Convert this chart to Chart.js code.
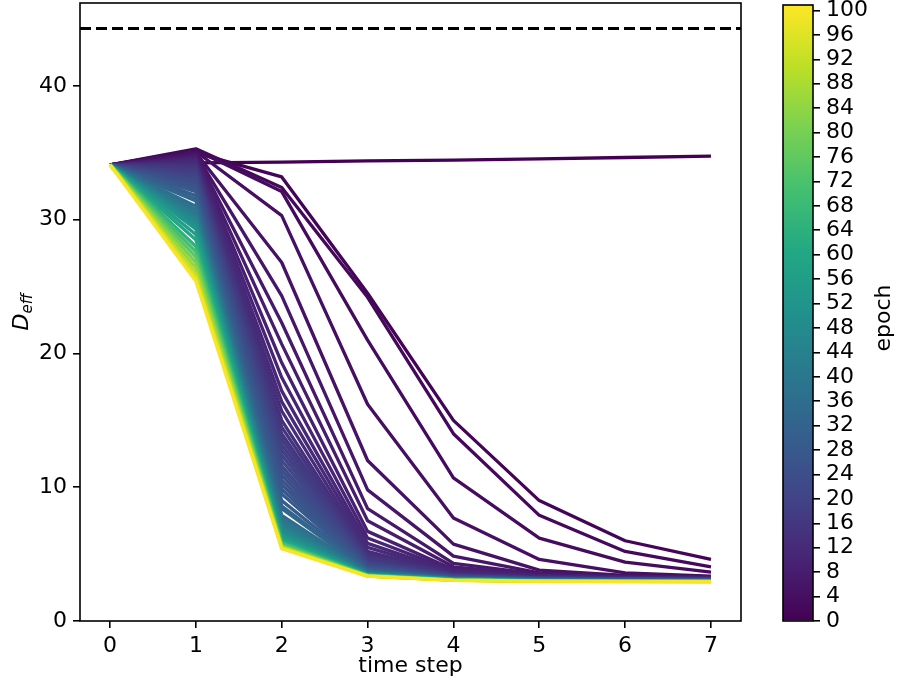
<!DOCTYPE html>
<html>
<head>
<meta charset="utf-8">
<script src="https://cdn.jsdelivr.net/npm/chart.js@4"></script>
<style>
html, body { margin: 0; padding: 0; background: #fff; }
#wrap { position: relative; width: 898px; height: 691px; }
canvas { position: absolute; top: 0; }
</style>
</head>
<body>
<div id="wrap">
  <canvas id="main" width="898" height="691" style="left:0"></canvas>
  <canvas id="cbar" width="158" height="691" style="left:740px"></canvas>
</div>
<script>
// Data
const timeSteps = [0, 1, 2, 3, 4, 5, 6, 7];
const xTicks = [0, 1, 2, 3, 4, 5, 6, 7];
const yTicks = [0, 10, 20, 30, 40];
const cbTicks = [0, 4, 8, 12, 16, 20, 24, 28, 32, 36, 40, 44, 48, 52, 56, 60, 64, 68, 72, 76, 80, 84, 88, 92, 96, 100];
const xMin = -0.35, xMax = 7.35;
const yMin = 0, yMax = 46.2;
const cbMax = 100.9;
const baselineDeff = 44.3;   // dashed reference line

const epochs = [0, 1, 2, 3, 4, 5, 6, 7, 8, 9, 10, 11, 12, 13, 14, 15, 16, 17, 18, 19, 20, 21, 22, 23,
                24, 25, 26, 27, 28, 30, 32, 33, 36, 38, 40, 42, 44, 46, 48, 50, 52, 56, 60, 65, 70,
                75, 80, 85, 90, 95, 100];

// D_eff per time step, one row per epoch above
const deff = [
  [34.1, 34.25, 34.3, 34.4, 34.45, 34.55, 34.65, 34.75],
  [34.1, 35.0, 33.2, 24.5, 15.0, 9.0, 6.0, 4.6],
  [34.1, 35.3, 32.4, 24.2, 14.0, 7.9, 5.2, 4.05],
  [34.1, 35.2, 32.1, 21.0, 10.7, 6.2, 4.4, 3.65],
  [34.1, 35.1, 30.3, 16.2, 7.7, 4.6, 3.6, 3.35],
  [34.1, 35.0, 26.8, 12.0, 5.75, 3.8, 3.4, 3.3],
  [34.1, 34.9, 24.3, 9.8, 4.85, 3.6, 3.35, 3.3],
  [34.1, 34.8, 22.3, 8.4, 4.3, 3.5, 3.3, 3.28],
  [34.1, 34.7, 20.7, 7.5, 4.05, 3.45, 3.3, 3.26],
  [34.1, 34.6, 19.3, 6.7, 3.85, 3.4, 3.28, 3.24],
  [34.1, 34.5, 18.2, 6.2, 3.75, 3.35, 3.26, 3.22],
  [34.1, 34.4, 17.2, 5.8, 3.65, 3.32, 3.24, 3.2],
  [34.1, 34.3, 16.4, 5.5, 3.6, 3.3, 3.22, 3.18],
  [34.1, 34.2, 15.7, 5.2, 3.55, 3.28, 3.2, 3.16],
  [34.1, 34.1, 15.0, 5.0, 3.5, 3.25, 3.18, 3.15],
  [34.1, 34.0, 14.5, 4.85, 3.48, 3.23, 3.17, 3.14],
  [34.1, 33.9, 14.0, 4.7, 3.45, 3.22, 3.16, 3.14],
  [34.1, 33.75, 13.6, 4.6, 3.42, 3.21, 3.15, 3.13],
  [34.1, 33.6, 13.2, 4.5, 3.4, 3.2, 3.15, 3.12],
  [34.1, 33.45, 12.8, 4.42, 3.37, 3.19, 3.14, 3.11],
  [34.1, 33.3, 12.4, 4.35, 3.35, 3.18, 3.14, 3.1],
  [34.1, 33.15, 12.0, 4.28, 3.33, 3.17, 3.13, 3.1],
  [34.1, 33.0, 11.6, 4.2, 3.3, 3.16, 3.12, 3.1],
  [34.1, 32.85, 11.25, 4.15, 3.3, 3.15, 3.11, 3.09],
  [34.1, 32.7, 10.9, 4.1, 3.3, 3.15, 3.1, 3.08],
  [34.1, 32.55, 10.55, 4.05, 3.28, 3.13, 3.09, 3.07],
  [34.1, 32.4, 10.2, 4.0, 3.25, 3.12, 3.08, 3.06],
  [34.1, 32.25, 9.85, 3.95, 3.25, 3.11, 3.07, 3.05],
  [34.1, 32.1, 9.5, 3.9, 3.25, 3.1, 3.06, 3.05],
  [34.1, 31.8, 9.0, 3.85, 3.2, 3.1, 3.05, 3.04],
  [34.1, 31.55, 8.6, 3.78, 3.2, 3.09, 3.05, 3.03],
  [34.1, 31.4, 8.4, 3.75, 3.2, 3.08, 3.04, 3.03],
  [34.1, 31.0, 7.9, 3.7, 3.18, 3.06, 3.03, 3.02],
  [34.1, 30.75, 7.65, 3.65, 3.17, 3.05, 3.02, 3.01],
  [34.1, 30.5, 7.4, 3.6, 3.15, 3.05, 3.02, 3.01],
  [34.1, 30.3, 7.2, 3.58, 3.15, 3.04, 3.01, 3.0],
  [34.1, 30.1, 7.0, 3.55, 3.15, 3.04, 3.01, 3.0],
  [34.1, 29.9, 6.85, 3.52, 3.14, 3.03, 3.0, 3.0],
  [34.1, 29.7, 6.7, 3.5, 3.14, 3.03, 3.0, 3.0],
  [34.1, 29.5, 6.55, 3.5, 3.13, 3.02, 3.0, 2.99],
  [34.1, 29.3, 6.4, 3.5, 3.12, 3.02, 3.0, 2.99],
  [34.1, 28.9, 6.2, 3.45, 3.1, 3.01, 2.99, 2.98],
  [34.1, 28.5, 6.05, 3.45, 3.1, 3.0, 2.99, 2.98],
  [34.1, 28.0, 5.9, 3.42, 3.09, 3.0, 2.98, 2.97],
  [34.1, 27.6, 5.8, 3.4, 3.08, 2.99, 2.98, 2.97],
  [34.1, 27.2, 5.7, 3.4, 3.07, 2.99, 2.97, 2.96],
  [34.1, 26.8, 5.6, 3.38, 3.06, 2.98, 2.97, 2.96],
  [34.1, 26.4, 5.55, 3.37, 3.05, 2.98, 2.96, 2.95],
  [34.1, 26.0, 5.5, 3.36, 3.05, 2.97, 2.96, 2.95],
  [34.1, 25.7, 5.45, 3.35, 3.04, 2.97, 2.95, 2.94],
  [34.1, 25.4, 5.4, 3.35, 3.04, 2.96, 2.95, 2.94]
];

// viridis colormap
const viridisStops = ['#440154', '#482475', '#414487', '#355f8d', '#2a788e', '#21918c',
                      '#22a884', '#44bf70', '#7ad151', '#bddf26', '#fde725'];

function hexToRgb(h) {
    return [parseInt(h.slice(1, 3), 16), parseInt(h.slice(3, 5), 16), parseInt(h.slice(5, 7), 16)];
}

function viridis(t) {
    t = Math.max(0, Math.min(1, t));
    const pos = t * (viridisStops.length - 1);
    const i = Math.min(Math.floor(pos), viridisStops.length - 2);
    const f = pos - i;
    const a = hexToRgb(viridisStops[i]);
    const b = hexToRgb(viridisStops[i + 1]);
    const c = a.map((v, k) => Math.round(v + (b[k] - v) * f));
    return `rgb(${c[0]},${c[1]},${c[2]})`;
}

const FONT_SIZE = 22;
Chart.defaults.font.family = "'DejaVu Sans', sans-serif";
Chart.defaults.font.size = FONT_SIZE;
Chart.defaults.color = '#000';

// box around the plot area, like matplotlib spines
const framePlugin = {
    id: 'frame',
    afterDatasetsDraw(chart) {
        const { ctx, chartArea: a } = chart;
        ctx.save();
        ctx.strokeStyle = '#000';
        ctx.lineWidth = 1.6;
        ctx.strokeRect(a.left, a.top, a.right - a.left, a.bottom - a.top);
        ctx.restore();
    }
};

// rotated y label with subscript: D_eff
const yLabelPlugin = {
    id: 'yLabel',
    afterDraw(chart) {
        const ctx = chart.ctx;
        const a = chart.chartArea;
        ctx.save();
        ctx.translate(28, (a.top + a.bottom) / 2);
        ctx.rotate(-Math.PI / 2);
        ctx.fillStyle = '#000';
        ctx.textBaseline = 'alphabetic';
        ctx.textAlign = 'left';
        ctx.font = "italic 22px 'DejaVu Sans'";
        const wD = ctx.measureText('D').width;
        ctx.font = "italic 15px 'DejaVu Sans'";
        const wSub = ctx.measureText('eff').width;
        const start = -(wD + wSub) / 2;
        ctx.font = "italic 22px 'DejaVu Sans'";
        ctx.fillText('D', start, 0);
        ctx.font = "italic 15px 'DejaVu Sans'";
        ctx.fillText('eff', start + wD, 4);
        ctx.restore();
    }
};

// keep the plot area where the reference has it
function noLabelPadding(s) {
    s.paddingTop = 0;
    s.paddingBottom = 0;
    s.paddingLeft = 0;
    s.paddingRight = 0;
}

const tickGrid = { drawOnChartArea: false, drawTicks: true, tickLength: 7, color: '#000', lineWidth: 1.6 };

const lineDatasets = epochs.map((ep, idx) => ({
    label: 'epoch ' + ep,
    data: timeSteps.map((t, i) => ({ x: t, y: deff[idx][i] })),
    borderColor: viridis(ep / cbMax),
    borderWidth: 3.3,
    borderJoinStyle: 'round',
    pointRadius: 0,
    fill: false,
    tension: 0,
    order: 200 - ep
}));

lineDatasets.push({
    label: 'reference',
    data: [{ x: xMin, y: baselineDeff }, { x: xMax, y: baselineDeff }],
    borderColor: '#000',
    borderWidth: 3,
    borderDash: [11, 5],
    pointRadius: 0,
    fill: false,
    order: 0
});

new Chart(document.getElementById('main'), {
    type: 'line',
    data: { datasets: lineDatasets },
    options: {
        responsive: false,
        animation: false,
        layout: { padding: { left: 0, right: 157, top: 3, bottom: 0 } },
        plugins: { legend: { display: false }, tooltip: { enabled: false } },
        scales: {
            x: {
                type: 'linear',
                min: xMin,
                max: xMax,
                afterBuildTicks: s => { s.ticks = xTicks.map(v => ({ value: v })); },
                afterFit: s => { s.height = 70; noLabelPadding(s); },
                ticks: { padding: 5, maxRotation: 0, autoSkip: false, callback: v => String(v) },
                grid: tickGrid,
                border: { display: false },
                title: { display: true, text: 'time step', padding: { top: 0, bottom: 12 } }
            },
            y: {
                type: 'linear',
                min: yMin,
                max: yMax,
                afterBuildTicks: s => { s.ticks = yTicks.map(v => ({ value: v })); },
                afterFit: s => { s.width = 80; noLabelPadding(s); },
                ticks: { padding: 6, autoSkip: false, callback: v => String(v) },
                grid: tickGrid,
                border: { display: false }
            }
        }
    },
    plugins: [framePlugin, yLabelPlugin]
});

// colorbar
const cbLabelPlugin = {
    id: 'cbLabel',
    afterDraw(chart) {
        const ctx = chart.ctx;
        ctx.save();
        ctx.translate(150, 318);
        ctx.rotate(-Math.PI / 2);
        ctx.fillStyle = '#000';
        ctx.font = "22px 'DejaVu Sans'";
        ctx.textAlign = 'center';
        ctx.textBaseline = 'alphabetic';
        ctx.fillText('epoch', 0, 0);
        ctx.restore();
    }
};

new Chart(document.getElementById('cbar'), {
    type: 'bar',
    data: {
        labels: ['epoch'],
        datasets: [{
            data: [[0, cbMax]],
            backgroundColor: c => {
                const a = c.chart.chartArea;
                if (!a) return viridisStops[0];
                const g = c.chart.ctx.createLinearGradient(0, a.bottom, 0, a.top);
                viridisStops.forEach((col, i) => g.addColorStop(i / (viridisStops.length - 1), col));
                return g;
            },
            borderWidth: 0,
            barPercentage: 1,
            categoryPercentage: 1
        }]
    },
    options: {
        responsive: false,
        animation: false,
        layout: { padding: { left: 43, right: 0, top: 5, bottom: 70 } },
        plugins: { legend: { display: false }, tooltip: { enabled: false } },
        scales: {
            x: { display: false },
            y: {
                position: 'right',
                min: 0,
                max: cbMax,
                afterBuildTicks: s => { s.ticks = cbTicks.map(v => ({ value: v })); },
                afterFit: s => { s.width = 85; noLabelPadding(s); },
                ticks: { padding: 6, autoSkip: false, callback: v => String(v) },
                grid: tickGrid,
                border: { display: false }
            }
        }
    },
    plugins: [framePlugin, cbLabelPlugin]
});
</script>
</body>
</html>
